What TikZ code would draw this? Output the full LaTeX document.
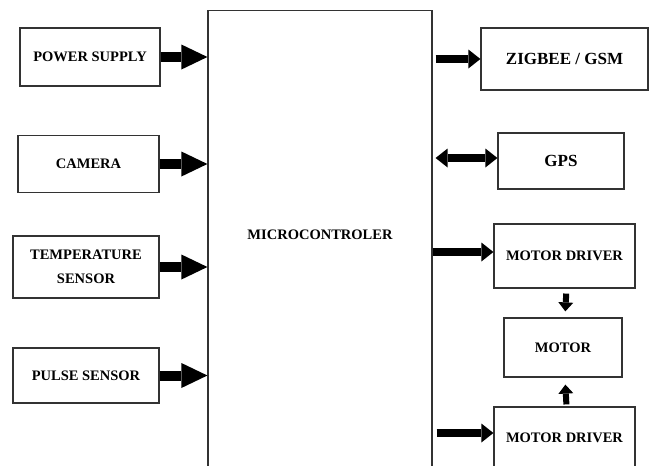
\documentclass[tikz,border=0pt]{standalone}
\usepackage{fontspec}
\setmainfont{Liberation Serif}
\usetikzlibrary{arrows.meta}
\newcommand{\blk}{\fontsize{14.5}{24}\selectfont\bfseries}
\newcommand{\bigblk}{\fontsize{17}{20}\selectfont\bfseries}

\begin{document}
\begin{tikzpicture}[x=1pt,y=-1pt,line width=1.2pt,
		box/.style={draw=black!80,inner sep=0pt,align=center,font=\blk},
		fatarrow/.style={line width=10pt,-{Triangle[length=26pt,width=25pt,line width=0pt]}},
		midarrow/.style={line width=8pt,-{Triangle[length=12pt,width=19pt,line width=0pt]}},
		twoarrow/.style={line width=8pt,{Triangle[length=12pt,width=19pt,line width=0pt]}-{Triangle[length=12pt,width=19pt,line width=0pt]}},
		smallarrow/.style={line width=6pt,-{Triangle[length=9pt,width=15pt,line width=0pt]}}]
					\useasboundingbox (0,0) rectangle (649,466);
					\clip (0,0) rectangle (649,466);
					\node[box,minimum width=224,minimum height=470,anchor=north] (mcu) at (320,10) {};
					\node[font=\blk] (mcutext) at (320,235) {MICROCONTROLER};
					\node[box,minimum width=140,minimum height=58] (pwr) at (90,57) {POWER SUPPLY};
					\node[box,minimum width=141,minimum height=57] (cam) at (88.5,164) {CAMERA};
					\node[box,minimum width=146,minimum height=62] (temp) at (86,267) {TEMPERATURE\\SENSOR};
					\node[box,minimum width=146,minimum height=55] (pulse) at (86,375.5) {PULSE SENSOR};
					\node[box,minimum width=167,minimum height=62,font=\bigblk] (zig) at (564.5,59) {ZIGBEE / GSM};
					\node[box,minimum width=126,minimum height=56,font=\bigblk] (gps) at (561,161) {GPS};
					\node[box,minimum width=141,minimum height=64] (md1) at (564.5,256) {MOTOR DRIVER};
					\node[box,minimum width=118,minimum height=59] (motor) at (563,347.5) {MOTOR};
					\node[box,minimum width=141,minimum height=62] (md2) at (564.5,438) {MOTOR DRIVER};
					\draw[fatarrow] (pwr.east) -- (pwr.east -| mcu.west);
					\draw[fatarrow] (cam.east) -- (cam.east -| mcu.west);
					\draw[fatarrow] (temp.east) -- (temp.east -| mcu.west);
					\draw[fatarrow] (pulse.east) -- (pulse.east -| mcu.west);
					\draw[midarrow] ([xshift=3pt]zig.west -| mcu.east) -- (zig.west);
					\draw[twoarrow] ([xshift=3pt,yshift=3pt]gps.west -| mcu.east) -- ([yshift=3pt]gps.west);
					\draw[midarrow] ([yshift=4pt]md1.west -| mcu.east) -- ([yshift=4pt]md1.west);
					\draw[midarrow] ([xshift=4pt,yshift=5pt]md2.west -| mcu.east) -- ([yshift=5pt]md2.west);
					\draw[smallarrow,shorten <=5pt,shorten >=6pt] ([xshift=2pt]md1.south) -- ([xshift=2pt]motor.north);
					\draw[smallarrow,shorten <=2pt,shorten >=7pt] ([xshift=2pt]md2.north) -- ([xshift=2pt]motor.south);
		\end{tikzpicture}
\end{document}
